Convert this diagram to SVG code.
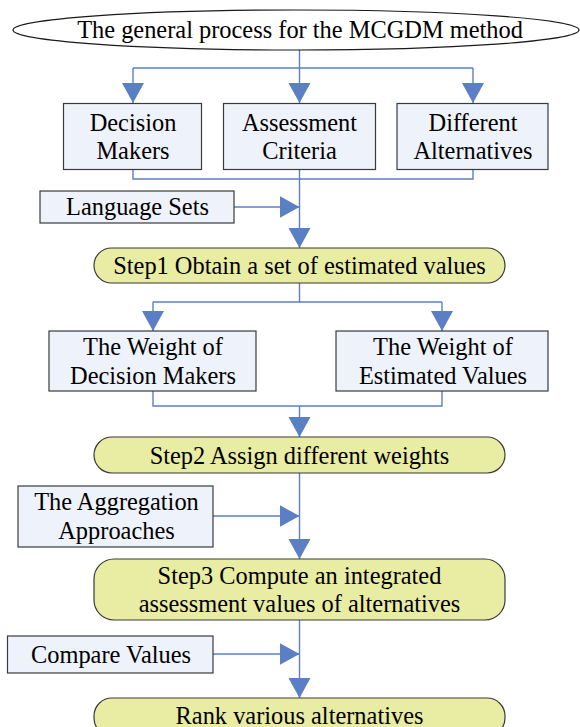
<svg xmlns="http://www.w3.org/2000/svg" width="580" height="727" viewBox="0 0 580 727">
  <style>
    text { font-family: "Liberation Serif", "Times New Roman", serif; font-size: 24.4px; fill: #000; text-anchor: middle; }
    .box { fill: #EEF2FA; stroke: #3A3A3A; stroke-width: 1.2; }
    .step { fill: #E9ECA3; stroke: #3A3A3A; stroke-width: 1.2; }
    .title { fill: #FFFFFF; stroke: #1A1A1A; stroke-width: 1.2; }
    .conn { fill: none; stroke: #5B7FC4; stroke-width: 1.4; }
  </style>
  <defs>
    <marker id="ah" markerUnits="userSpaceOnUse" markerWidth="20" markerHeight="22" refX="20" refY="11" orient="auto">
      <path d="M0,0 L20,11 L0,22 Z" fill="#5B7FC4"/>
    </marker>
  </defs>

  <!-- connectors -->
  <g id="connectors">
    <path class="conn" d="M299.5,50 V68 M133,68 H473"/>
    <path class="conn" d="M133,68 V103" marker-end="url(#ah)"/>
    <path class="conn" d="M299.5,68 V103" marker-end="url(#ah)"/>
    <path class="conn" d="M473,68 V103" marker-end="url(#ah)"/>
    <path class="conn" d="M133,169 V179 H473 V169"/>
    <path class="conn" d="M299.5,169 V248" marker-end="url(#ah)"/>
    <path class="conn" d="M234,207 H299.5" marker-end="url(#ah)"/>
    <path class="conn" d="M299.5,283 V302 M153,302 H442"/>
    <path class="conn" d="M153,302 V331" marker-end="url(#ah)"/>
    <path class="conn" d="M442,302 V331" marker-end="url(#ah)"/>
    <path class="conn" d="M153,391 V406 H442 V391"/>
    <path class="conn" d="M299.5,406 V437" marker-end="url(#ah)"/>
    <path class="conn" d="M299.5,473 V559" marker-end="url(#ah)"/>
    <path class="conn" d="M213,516 H299.5" marker-end="url(#ah)"/>
    <path class="conn" d="M299.5,620 V698" marker-end="url(#ah)"/>
    <path class="conn" d="M213,654 H299.5" marker-end="url(#ah)"/>
  </g>

  <g id="title">
    <ellipse class="title" cx="296" cy="30" rx="283" ry="20"/>
    <text x="300" y="37.5">The general process for the MCGDM method</text>
  </g>

  <g id="decision-makers">
    <rect class="box" x="63.5" y="103.5" width="138" height="66"/>
    <text x="133" y="131">Decision</text>
    <text x="133" y="159">Makers</text>
  </g>
  <g id="assessment-criteria">
    <rect class="box" x="223.5" y="103.5" width="152" height="66"/>
    <text x="299.5" y="131">Assessment</text>
    <text x="299.5" y="159">Criteria</text>
  </g>
  <g id="different-alternatives">
    <rect class="box" x="397" y="103.5" width="151" height="66"/>
    <text x="473" y="131">Different</text>
    <text x="473" y="159">Alternatives</text>
  </g>

  <g id="language-sets">
    <rect class="box" x="40" y="191" width="194" height="32"/>
    <text x="137.5" y="215">Language Sets</text>
  </g>

  <g id="step1">
    <rect class="step" x="94" y="248" width="411" height="35" rx="17.5"/>
    <text x="299.5" y="273.5">Step1 Obtain a set of estimated values</text>
  </g>

  <g id="weight-decision-makers">
    <rect class="box" x="49" y="331" width="207" height="60"/>
    <text x="153" y="354.5">The Weight of</text>
    <text x="153" y="383.5">Decision Makers</text>
  </g>
  <g id="weight-estimated-values">
    <rect class="box" x="336" y="331" width="212" height="60"/>
    <text x="443" y="354.5">The Weight of</text>
    <text x="443" y="383.5">Estimated Values</text>
  </g>

  <g id="step2">
    <rect class="step" x="94" y="437" width="411" height="36" rx="18"/>
    <text x="299.5" y="463.5">Step2 Assign different weights</text>
  </g>

  <g id="aggregation-approaches">
    <rect class="box" x="18" y="486" width="195" height="61"/>
    <text x="116.5" y="510">The Aggregation</text>
    <text x="116.5" y="539">Approaches</text>
  </g>

  <g id="step3">
    <rect class="step" x="94" y="559" width="411" height="61" rx="20"/>
    <text x="299.5" y="583.5">Step3 Compute an integrated</text>
    <text x="299.5" y="612">assessment values of alternatives</text>
  </g>

  <g id="compare-values">
    <rect class="box" x="7.5" y="636" width="205.5" height="37"/>
    <text x="111" y="663">Compare Values</text>
  </g>

  <g id="rank">
    <rect class="step" x="94" y="698" width="411" height="38" rx="18"/>
    <text x="299.5" y="723.5">Rank various alternatives</text>
  </g>
</svg>
